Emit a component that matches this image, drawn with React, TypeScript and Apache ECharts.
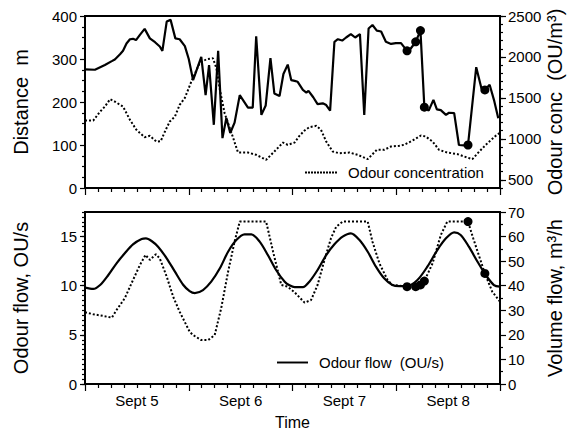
import React, { useEffect, useRef } from 'react';
import * as echarts from 'echarts';

// Time axis: hours since Sept 5 00:00
const dayLabels = ['Sept 5', 'Sept 6', 'Sept 7', 'Sept 8'];
const dayLabelHours = [12, 36, 60, 84];

// Top panel: distance (left axis, m)
const distanceHours = [0, 2.3, 4.6, 6.2, 6.9, 8.1, 8.8, 9.6, 10.4, 11.1, 11.8, 12.7, 13.8, 15.0, 16.2, 17.3, 17.9, 18.9, 19.8, 20.9, 21.9, 23.1, 24.0, 25.0, 26.9, 27.9, 28.7, 29.8, 30.8, 31.8, 32.7, 33.6, 34.6, 35.8, 37.7, 38.8, 39.6, 40.8, 41.8, 42.9, 43.8, 45.0, 45.9, 46.9, 47.7, 48.5, 49.2, 50.4, 51.2, 51.7, 52.8, 53.8, 55.0, 55.8, 56.7, 57.7, 58.5, 59.5, 60.4, 61.5, 62.5, 63.6, 64.6, 65.6, 66.5, 67.5, 68.5, 69.6, 70.8, 71.9, 73.1, 74.5, 75.4, 76.5, 77.6, 78.5, 79.5, 80.6, 81.4, 82.3, 83.5, 84.2, 85.4, 86.5, 87.7, 88.6, 90.5, 91.7, 92.5, 93.6, 94.6, 95.6];
const distanceM = [276, 275, 286, 295, 299, 311, 319, 336, 346, 347, 344, 356, 370, 348, 339, 329, 319, 387, 391, 348, 346, 330, 300, 251, 305, 216, 286, 147, 319, 116, 163, 128, 152, 216, 187, 187, 353, 170, 192, 302, 220, 214, 265, 287, 251, 249, 247, 228, 222, 226, 211, 195, 197, 193, 180, 340, 346, 343, 350, 358, 350, 358, 170, 371, 379, 366, 364, 340, 335, 337, 337, 319, 325, 340, 366, 188, 180, 205, 183, 181, 170, 175, 174, 100, 99, 100, 281, 232, 228, 240, 205, 162];

// Top panel: odour concentration (right axis, OU/m3)
const concHours = [0, 1.9, 3.5, 4.6, 5.8, 6.9, 8.8, 10.4, 11.9, 13.8, 15.0, 16.5, 17.5, 18.5, 19.6, 20.8, 21.9, 23.1, 24.6, 26.5, 28.1, 29.6, 30.4, 31.2, 32.3, 33.9, 35.4, 37.7, 39.6, 41.9, 43.8, 45.8, 46.9, 48.5, 49.6, 50.8, 51.9, 53.5, 54.6, 55.8, 57.3, 58.8, 61.2, 63.1, 65.4, 67.5, 69.2, 70.8, 72.7, 73.8, 75.8, 77.7, 78.8, 80.4, 81.9, 83.8, 86.2, 87.7, 89.6, 91.2, 93.1, 95.0, 96.0];
const concOU = [1223, 1223, 1333, 1394, 1484, 1455, 1394, 1232, 1110, 1020, 1037, 967, 971, 1090, 1211, 1272, 1415, 1500, 1699, 1923, 1972, 1984, 1862, 1598, 1313, 1070, 833, 833, 805, 744, 845, 955, 927, 955, 1037, 1102, 1143, 1159, 1110, 967, 845, 825, 833, 805, 752, 866, 866, 907, 915, 927, 980, 1041, 1029, 967, 866, 833, 813, 785, 752, 845, 947, 1037, 1075];

// Bottom panel: odour flow (left axis, OU/s)
const flowHours = [0, 1.9, 3.5, 5.4, 7.3, 9.2, 11.1, 13.1, 14.1, 15.4, 16.9, 18.9, 20.8, 22.7, 24.2, 25.4, 27.3, 29.2, 31.2, 33.1, 35.0, 36.9, 38.5, 40.4, 42.3, 44.2, 46.2, 47.3, 48.5, 50.4, 51.9, 53.8, 55.8, 57.7, 59.6, 61.5, 63.5, 65.4, 67.3, 69.2, 71.1, 72.7, 74.6, 76.9, 79.2, 81.5, 83.5, 85.4, 86.9, 88.8, 90.8, 92.7, 94.6, 96.0];
const flowOUs = [9.8, 9.67, 10.07, 11.09, 12.28, 13.3, 14.21, 14.75, 14.82, 14.55, 13.97, 12.79, 11.43, 10.1, 9.45, 9.25, 9.56, 10.41, 11.77, 13.46, 14.65, 15.23, 15.23, 14.48, 13.12, 11.6, 10.41, 10.05, 9.85, 9.85, 10.41, 11.6, 13.12, 14.21, 14.99, 15.33, 14.65, 13.46, 11.94, 10.75, 10.07, 9.95, 9.97, 10.58, 11.94, 13.63, 14.82, 15.43, 15.16, 13.97, 12.44, 11.09, 10.07, 9.9];

// Bottom panel: volume flow (right axis, m3/h)
const volumeHours = [0, 1.9, 4.2, 6.2, 7.3, 9.2, 11.1, 12.7, 14.0, 15.0, 16.4, 17.3, 18.9, 20.4, 21.9, 24.2, 25.0, 26.9, 28.5, 30.0, 31.5, 33.1, 34.6, 35.8, 41.9, 43.5, 45.4, 46.9, 48.5, 50.8, 52.3, 53.8, 55.4, 56.9, 58.1, 59.6, 65.4, 66.5, 68.1, 70.0, 71.1, 72.7, 74.5, 76.5, 77.6, 78.5, 80.4, 82.3, 83.8, 88.6, 89.8, 92.5, 94.2, 96.0];
const volumeM3h = [29.2, 28.4, 27.7, 27.0, 30.1, 34.9, 42.3, 48.4, 52.5, 50.5, 52.8, 51.1, 43.7, 35.5, 29.4, 21.3, 19.9, 17.9, 17.9, 19.9, 30.8, 45.7, 57.9, 66.1, 66.1, 53.9, 40.3, 39.6, 37.3, 33.1, 34.2, 40.3, 50.5, 59.3, 64.0, 66.1, 66.1, 57.9, 49.1, 42.3, 40.3, 40.0, 39.6, 39.6, 40.3, 41.9, 49.1, 60.6, 66.1, 66.1, 59.3, 45.0, 37.6, 33.5];

// Highlighted samples
const markerHours = [74.5, 76.5, 77.6, 78.5, 88.6, 92.5];
const markerDistance = [319, 340, 366, 188, 100, 228];
const markerVolume = [39.6, 39.6, 40.3, 41.9, 66.1, 45.0];

const concTicks = [500, 1000, 1500, 2000, 2500];
const flowTicks = [0, 5, 10, 15];

const zip = (xs: number[], ys: number[]) => xs.map((x, i) => [x, ys[i]]);

const BLACK = '#000';
const FONT = '"Liberation Sans", Arial, Helvetica, sans-serif';
const TICK_FONT = 15;

// legend icons: a solid bar and a row of small square dots
const solidIcon = 'path://M0,0h32v2h-32z';
const dottedIcon =
  'path://' +
  Array.from({ length: 11 }, (_, i) => `M${i * 3},0h2v2h-2z`).join(' ');

const axisLine = { show: true, onZero: false, lineStyle: { color: BLACK, width: 1.5 } };
const tickStyle = { color: BLACK, width: 1.2 };
const plainNumber = (v: number) => String(v);

function xAxisFor(gridIndex: number, withLabels: boolean) {
  return {
    type: 'value',
    gridIndex,
    min: 0,
    max: 96,
    interval: 24,
    axisLine,
    axisTick: { show: true, length: 7, lineStyle: tickStyle },
    minorTick: { show: true, splitNumber: 8, length: 4, lineStyle: tickStyle },
    splitLine: { show: false },
    minorSplitLine: { show: false },
    axisLabel: withLabels
      ? {
          show: true,
          customValues: dayLabelHours,
          formatter: (v: number) => dayLabels[Math.round((v - 12) / 24)] ?? '',
          color: BLACK,
          fontSize: TICK_FONT,
          fontFamily: FONT,
          margin: 9,
        }
      : { show: false },
    name: withLabels ? 'Time' : '',
    nameLocation: 'middle',
    nameGap: 30,
    nameMoveOverlap: false,
    nameTextStyle: { color: BLACK, fontSize: 16, fontFamily: FONT },
  };
}

const option: any = {
  animation: false,
  backgroundColor: '#fff',
  textStyle: { fontFamily: FONT, color: BLACK },
  grid: [
    { left: 85, top: 16, width: 415, height: 172, show: true, borderColor: BLACK, borderWidth: 2, backgroundColor: 'transparent', containLabel: false, outerBoundsMode: 'none' },
    { left: 85, top: 212, width: 415, height: 172, show: true, borderColor: BLACK, borderWidth: 2, backgroundColor: 'transparent', containLabel: false, outerBoundsMode: 'none' },
  ],
  xAxis: [xAxisFor(0, false), xAxisFor(1, true)],
  yAxis: [
    // 0: Distance (top left)
    {
      type: 'value', gridIndex: 0, position: 'left', min: 0, max: 400, interval: 100,
      axisLine,
      axisTick: { show: true, length: 5, lineStyle: tickStyle },
      minorTick: { show: true, splitNumber: 4, length: 3, lineStyle: tickStyle },
      splitLine: { show: false }, minorSplitLine: { show: false },
      axisLabel: { color: BLACK, fontSize: TICK_FONT, fontFamily: FONT, margin: 8, formatter: plainNumber },
      name: 'Distance  m', nameLocation: 'middle', nameGap: 54, nameMoveOverlap: false,
      nameTextStyle: { color: BLACK, fontSize: 20, fontFamily: FONT },
    },
    // 1: Odour conc minor ticks (top right)
    {
      type: 'value', gridIndex: 0, position: 'right', min: 400, max: 2500, interval: 100,
      axisLine,
      axisTick: { show: true, length: 3, lineStyle: tickStyle },
      splitLine: { show: false },
      axisLabel: { show: false },
    },
    // 2: Odour conc major ticks + labels (top right)
    {
      type: 'value', gridIndex: 0, position: 'right', min: 400, max: 2500,
      axisLine,
      axisTick: { show: true, length: 6, customValues: concTicks, lineStyle: tickStyle },
      splitLine: { show: false },
      axisLabel: { customValues: concTicks, color: BLACK, fontSize: TICK_FONT, fontFamily: FONT, margin: 8, formatter: plainNumber },
      name: 'Odour conc  (OU/m³)', nameLocation: 'middle', nameGap: 45, nameMoveOverlap: false,
      nameTextStyle: { color: BLACK, fontSize: 20, fontFamily: FONT },
    },
    // 3: Odour flow minor ticks (bottom left)
    {
      type: 'value', gridIndex: 1, position: 'left', min: 0, max: 17.5, interval: 0.5,
      axisLine,
      axisTick: { show: true, length: 3, lineStyle: tickStyle },
      splitLine: { show: false },
      axisLabel: { show: false },
    },
    // 4: Odour flow major ticks + labels (bottom left)
    {
      type: 'value', gridIndex: 1, position: 'left', min: 0, max: 17.5,
      axisLine,
      axisTick: { show: true, length: 5, customValues: flowTicks, lineStyle: tickStyle },
      splitLine: { show: false },
      axisLabel: { customValues: flowTicks, color: BLACK, fontSize: TICK_FONT, fontFamily: FONT, margin: 8, formatter: plainNumber },
      name: 'Odour flow, OU/s', nameLocation: 'middle', nameGap: 54, nameMoveOverlap: false,
      nameTextStyle: { color: BLACK, fontSize: 20, fontFamily: FONT },
    },
    // 5: Volume flow (bottom right)
    {
      type: 'value', gridIndex: 1, position: 'right', min: 0, max: 70, interval: 10,
      axisLine,
      axisTick: { show: true, length: 6, lineStyle: tickStyle },
      minorTick: { show: true, splitNumber: 2, length: 3, lineStyle: tickStyle },
      splitLine: { show: false }, minorSplitLine: { show: false },
      axisLabel: { color: BLACK, fontSize: TICK_FONT, fontFamily: FONT, margin: 8, formatter: plainNumber },
      name: 'Volume flow, m³/h', nameLocation: 'middle', nameGap: 45, nameMoveOverlap: false,
      nameTextStyle: { color: BLACK, fontSize: 20, fontFamily: FONT },
    },
  ],
  legend: [
    {
      data: [{ name: 'Odour concentration', icon: dottedIcon }], left: 305, top: 165, padding: 0,
      itemWidth: 32, itemHeight: 14, selectedMode: false,
      itemStyle: { color: BLACK },
      textStyle: { color: BLACK, fontSize: 15, fontFamily: FONT, padding: [0, 0, 0, 6] },
    },
    {
      data: [{ name: 'Odour flow  (OU/s)', icon: solidIcon }], left: 277, top: 355, padding: 0,
      itemWidth: 31, itemHeight: 14, selectedMode: false,
      itemStyle: { color: BLACK },
      textStyle: { color: BLACK, fontSize: 15, fontFamily: FONT, padding: [0, 0, 0, 6] },
    },
  ],
  series: [
    {
      name: 'Odour concentration', type: 'line', xAxisIndex: 0, yAxisIndex: 2,
      data: zip(concHours, concOU), symbol: 'none', smooth: false,
      lineStyle: { color: BLACK, width: 2, type: 'dotted' }, itemStyle: { color: BLACK },
    },
    {
      name: 'Distance', type: 'line', xAxisIndex: 0, yAxisIndex: 0,
      data: zip(distanceHours, distanceM), symbol: 'none',
      lineStyle: { color: BLACK, width: 2.2 }, itemStyle: { color: BLACK },
    },
    {
      name: 'Distance samples', type: 'scatter', xAxisIndex: 0, yAxisIndex: 0,
      data: zip(markerHours, markerDistance), symbol: 'circle', symbolSize: 9,
      itemStyle: { color: BLACK, opacity: 1 },
    },
    {
      name: 'Volume flow', type: 'line', xAxisIndex: 1, yAxisIndex: 5,
      data: zip(volumeHours, volumeM3h), symbol: 'none',
      lineStyle: { color: BLACK, width: 2, type: 'dotted' }, itemStyle: { color: BLACK },
    },
    {
      name: 'Odour flow  (OU/s)', type: 'line', xAxisIndex: 1, yAxisIndex: 4,
      data: zip(flowHours, flowOUs), symbol: 'none', smooth: 0.3,
      lineStyle: { color: BLACK, width: 2.2 }, itemStyle: { color: BLACK },
    },
    {
      name: 'Volume samples', type: 'scatter', xAxisIndex: 1, yAxisIndex: 5,
      data: zip(markerHours, markerVolume), symbol: 'circle', symbolSize: 9,
      itemStyle: { color: BLACK, opacity: 1 },
    },
  ],
};

export default function App() {
  const ref = useRef<HTMLDivElement>(null);
  useEffect(() => {
    if (!ref.current) return;
    const chart = echarts.init(ref.current, null, { renderer: 'svg' });
    chart.setOption(option);
    return () => chart.dispose();
  }, []);
  return (
    <div
      ref={ref}
      style={{ position: 'absolute', left: 0, top: 0, width: 568, height: 435, background: '#fff' }}
    />
  );
}
